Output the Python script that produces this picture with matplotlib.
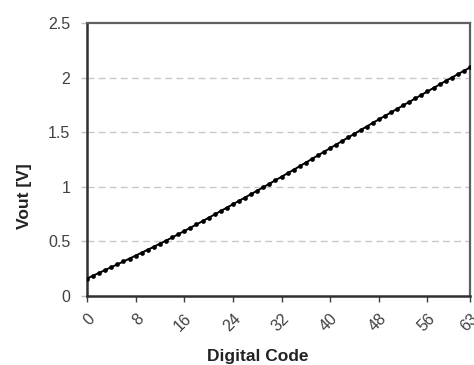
import matplotlib
matplotlib.use("Agg")
import matplotlib.pyplot as plt

codes = list(range(64))
vout = [0.160, 0.186, 0.212, 0.238, 0.264, 0.290, 0.316, 0.343,
        0.370, 0.397, 0.424, 0.451, 0.479, 0.507, 0.536, 0.565,
        0.595, 0.625, 0.655, 0.685, 0.716, 0.747, 0.778, 0.809,
        0.840, 0.871, 0.902, 0.933, 0.964, 0.996, 1.028, 1.060,
        1.092, 1.124, 1.156, 1.189, 1.222, 1.255, 1.288, 1.321,
        1.354, 1.387, 1.420, 1.453, 1.486, 1.519, 1.552, 1.585,
        1.617, 1.649, 1.681, 1.713, 1.745, 1.777, 1.809, 1.841,
        1.873, 1.905, 1.937, 1.969, 2.000, 2.031, 2.062, 2.093]
xticks = [0, 8, 16, 24, 32, 40, 48, 56, 63]
yticks = [0, 0.5, 1, 1.5, 2, 2.5]
ytick_labels = ["0", "0.5", "1", "1.5", "2", "2.5"]

plt.rcParams['font.family'] = ['Liberation Sans', 'DejaVu Sans']

fig = plt.figure(figsize=(4.74, 3.65), dpi=100)
ax = fig.add_axes([87/474, 1 - 296/365, (470 - 87)/474, (296 - 23)/365])

for y in yticks[1:-1]:
    ax.axhline(y, color='#c8c8c8', lw=1.0, ls=(0, (5, 3)), zorder=1)

ax.plot(codes, vout, color='black', lw=1.4, marker='o', markersize=3.4,
        markeredgewidth=0, zorder=3)

ax.set_xlim(0, 63)
ax.set_ylim(0, 2.5)
ax.set_xticks(xticks)
ax.set_xticklabels([str(t) for t in xticks], rotation=45, ha='right',
                   rotation_mode='anchor', fontsize=11.5, color='#404040')
ax.set_yticks(yticks)
ax.set_yticklabels(ytick_labels, fontsize=11.5, color='#404040')
ax.tick_params(axis='x', direction='out', length=4, width=1, color='#404040', pad=7)
ax.tick_params(axis='y', direction='out', length=4, width=1, color='#c0c0c0', pad=8)

for side in ['left', 'bottom']:
    ax.spines[side].set_color('#303030')
    ax.spines[side].set_linewidth(1.8)
for side in ['top', 'right']:
    ax.spines[side].set_color('#606060')
    ax.spines[side].set_linewidth(1.6)

fig.text(258/474, 1 - 357/365, "Digital Code", ha='center', va='center',
         fontsize=12.5, fontweight='bold', color='#222222')
fig.text(25/474, 1 - 196/365, "Vout [V]", ha='center', va='center',
         rotation=90, fontsize=12.5, fontweight='bold', color='#222222')

fig.savefig("out.png", dpi=100)
